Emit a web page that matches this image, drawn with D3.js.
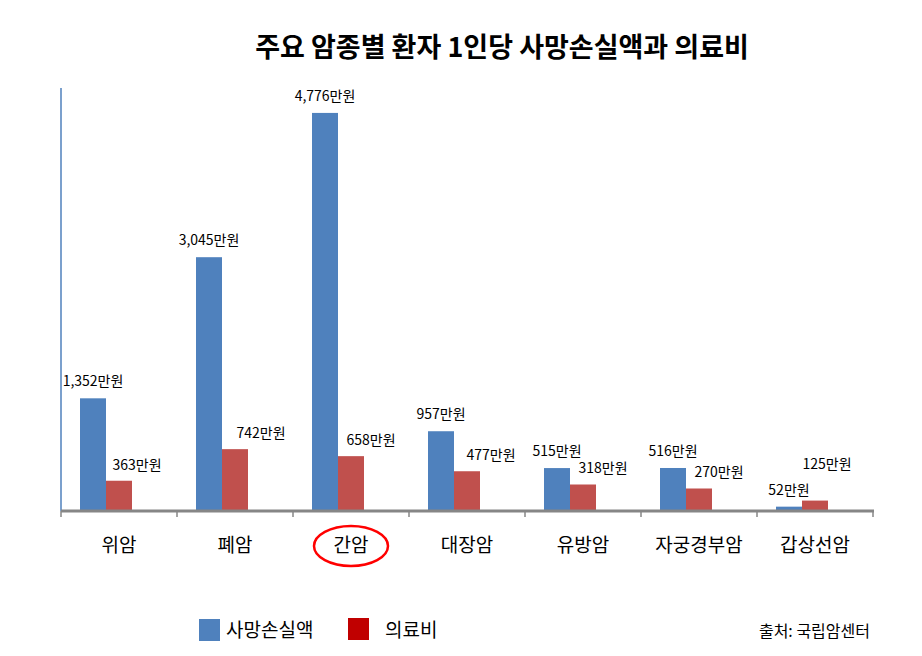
<!DOCTYPE html>
<html>
<head>
<meta charset="utf-8">
<script src="https://cdn.jsdelivr.net/npm/d3@7"></script>
<style>
  body { margin: 0; background: #fff; }
  svg { display: block; font-family: "Noto Sans CJK KR", sans-serif; }
</style>
</head>
<body>
<svg id="chart"></svg>
<script>
const categories = ["위암", "폐암", "간암", "대장암", "유방암", "자궁경부암", "갑상선암"];
const deathLoss = [1352, 3045, 4776, 957, 515, 516, 52];   // 사망손실액 (만원)
const medicalCost = [363, 742, 658, 477, 318, 270, 125];   // 의료비 (만원)
const seriesNames = ["사망손실액", "의료비"];

const width = 922;
const height = 656;
const marginLeft = 61;
const marginRight = 49;
const baseY = 511;
const topY = 88;

const blue = "#4f81bd";
const red = "#c0504d";

const svg = d3.select("#chart")
    .attr("width", width)
    .attr("height", height)
    .attr("viewBox", [0, 0, width, height]);

const x = d3.scaleBand()
    .domain(categories)
    .range([marginLeft, width - marginRight])
    .padding(0);

const y = d3.scaleLinear()
    .domain([0, 5075])
    .range([baseY, topY]);

const bw = 26;                         // 막대 하나 폭
const barStart = c => x(c) + 19;       // 엑셀 원본처럼 약간 왼쪽으로 치우침

// 제목
svg.append("text")
    .attr("x", 502)
    .attr("y", 57)
    .attr("text-anchor", "middle")
    .attr("font-size", "27px")
    .attr("font-weight", "bold")
    .attr("fill", "#000")
    .text("주요 암종별 환자 1인당 사망손실액과 의료비");

// 막대
const g = svg.append("g");
g.selectAll(".blue")
    .data(deathLoss)
    .join("rect")
    .attr("x", (d, i) => barStart(categories[i]))
    .attr("y", d => y(d))
    .attr("width", bw)
    .attr("height", d => baseY - y(d))
    .attr("fill", blue);

g.selectAll(".red")
    .data(medicalCost)
    .join("rect")
    .attr("x", (d, i) => barStart(categories[i]) + bw)
    .attr("y", d => y(d))
    .attr("width", bw)
    .attr("height", d => baseY - y(d))
    .attr("fill", red);

// 라벨 위치 보정 (원본에서 손으로 옮긴 것)
const redLabelDx = [18, 26, 20, 24, 20, 20, 12];
const redLabelLift = [0, 0, 0, 0, 0, 0, 21];
const fmt = d => d3.format(",")(d) + "만원";

g.selectAll(".blabel")
    .data(deathLoss)
    .join("text")
    .attr("x", (d, i) => barStart(categories[i]) + bw / 2)
    .attr("y", d => y(d) - 12)
    .attr("text-anchor", "middle")
    .attr("font-size", "14px")
    .attr("fill", "#000")
    .text(fmt);

g.selectAll(".rlabel")
    .data(medicalCost)
    .join("text")
    .attr("x", (d, i) => barStart(categories[i]) + bw * 1.5 + redLabelDx[i])
    .attr("y", (d, i) => y(d) - 11 - redLabelLift[i])
    .attr("text-anchor", "middle")
    .attr("font-size", "14px")
    .attr("fill", "#000")
    .text(fmt);

// y축 (선만)
svg.append("line")
    .attr("x1", marginLeft).attr("x2", marginLeft)
    .attr("y1", topY).attr("y2", baseY)
    .attr("stroke", blue)
    .attr("stroke-width", 1.5);

// x축
const xAxis = svg.append("g")
    .attr("transform", `translate(0,${baseY})`);
xAxis.append("line")
    .attr("x1", marginLeft).attr("x2", width - marginRight + 1)
    .attr("stroke", "#868686")
    .attr("stroke-width", 3);
xAxis.selectAll(".tk")
    .data(categories.concat([null]))
    .join("line")
    .attr("x1", (d, i) => d ? x(d) : x.range()[1])
    .attr("x2", (d, i) => d ? x(d) : x.range()[1])
    .attr("y1", 0).attr("y2", 6)
    .attr("stroke", "#868686")
    .attr("stroke-width", 1.5);
xAxis.selectAll(".cat")
    .data(categories)
    .join("text")
    .attr("x", d => x(d) + x.bandwidth() / 2)
    .attr("y", 41)
    .attr("text-anchor", "middle")
    .attr("font-size", "19px")
    .attr("fill", "#000")
    .text(d => d);

// 간암 강조 원
svg.append("ellipse")
    .attr("cx", x("간암") + x.bandwidth() / 2)
    .attr("cy", baseY + 35)
    .attr("rx", 37)
    .attr("ry", 20)
    .attr("fill", "none")
    .attr("stroke", "#ff0000")
    .attr("stroke-width", 2.5);

// 범례
const legend = svg.append("g").attr("transform", "translate(199,619)");
const legendColors = [blue, "#c00000"];
const legendX = [0, 149];
const legendTextX = [27, 37];
seriesNames.forEach((name, i) => {
    legend.append("rect")
        .attr("x", legendX[i])
        .attr("y", i === 0 ? 0 : -1)
        .attr("width", 21)
        .attr("height", 22)
        .attr("fill", legendColors[i]);
    legend.append("text")
        .attr("x", legendX[i] + legendTextX[i])
        .attr("y", 18)
        .attr("font-size", "19px")
        .attr("fill", "#000")
        .text(name);
});

svg.append("text")
    .attr("x", 870)
    .attr("y", 637)
    .attr("text-anchor", "end")
    .attr("font-size", "16px")
    .attr("fill", "#000")
    .text("출처: 국립암센터");
</script>
</body>
</html>
